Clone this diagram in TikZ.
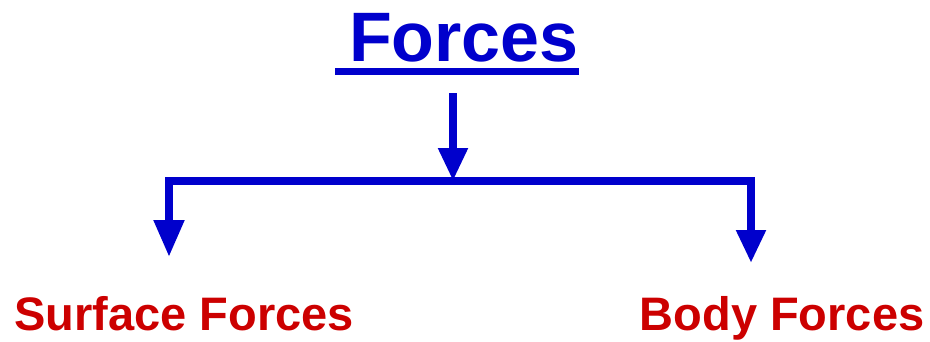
\documentclass[tikz,border=0pt]{standalone}
\usepackage{fontspec}
\setmainfont{Liberation Sans}
\usetikzlibrary{arrows.meta}
\definecolor{fblue}{RGB}{0,0,204}
\definecolor{fred}{RGB}{204,0,0}
\begin{document}
\begin{tikzpicture}[x=1pt,y=-1pt,
  titlestyle/.style={inner sep=0pt,text=fblue,font=\fontsize{70}{70}\selectfont\bfseries},
  labelstyle/.style={inner sep=0pt,text=fred,font=\fontsize{47}{47}\selectfont\bfseries},
  conn/.style={draw=fblue,line width=8pt,line join=miter},
  tipA/.style={-{Triangle[width=28pt,length=33pt]}},
  tipB/.style={-{Triangle[width=29pt,length=37pt]}}]
\useasboundingbox (0,0) rectangle (930,341);
\node[titlestyle,anchor=base] (title) at (464,61) {Forces};
\draw[fblue,line width=6.5pt] (335,71.5) -- (579,71.5);
\node[labelstyle,anchor=base] (surf) at (184,330) {Surface Forces};
\node[labelstyle,anchor=base] (body) at (782,330) {Body Forces};
\coordinate (top) at (453,93);
\coordinate (split) at (453,181);
\coordinate (lc) at (169,181);
\coordinate (rc) at (751,181);
\coordinate (lend) at (169,257);
\coordinate (rend) at (751,263);
\draw[conn,tipA] (top) -- (split);
\draw[conn,tipB] (split) -- (lc) -- (lend);
\draw[conn,tipA] (split) -- (rc) -- (rend);
\end{tikzpicture}
\end{document}
